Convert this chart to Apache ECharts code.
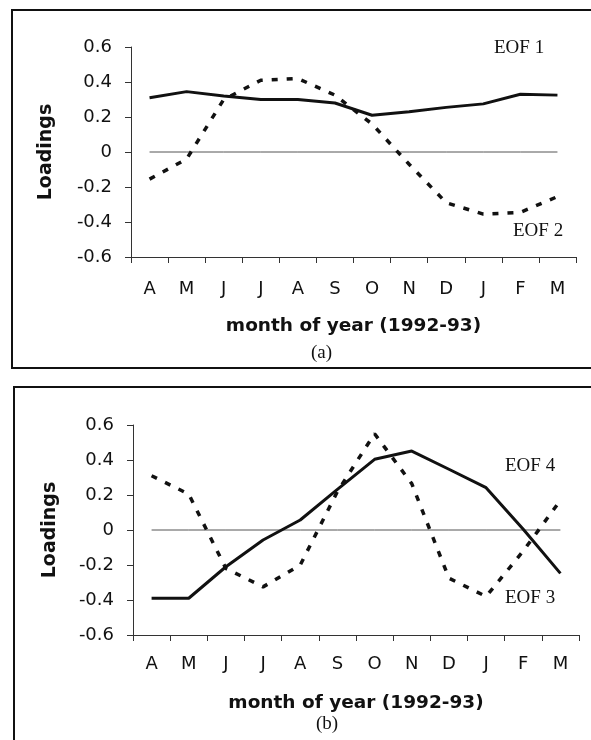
<!DOCTYPE html>
<html>
<head>
<meta charset="utf-8">
<script src="https://cdn.jsdelivr.net/npm/echarts@6/dist/echarts.min.js"></script>
<style>
html,body{margin:0;padding:0;background:#fff;}
#chart{width:591px;height:740px;}
</style>
</head>
<body>
<div id="chart"></div>
<script>
// ---- data ----
var months = ['A','M','J','J','A','S','O','N','D','J','F','M'];
var yTicks = [-0.6, -0.4, -0.2, 0, 0.2, 0.4, 0.6];
var eof1 = [0.31, 0.345, 0.32, 0.30, 0.30, 0.28, 0.21, 0.23, 0.255, 0.275, 0.33, 0.325];
var eof2 = [-0.155, -0.04, 0.30, 0.41, 0.42, 0.325, 0.16, -0.07, -0.29, -0.355, -0.345, -0.255];
var eof3 = [0.31, 0.205, -0.22, -0.325, -0.20, 0.22, 0.55, 0.265, -0.275, -0.38, -0.12, 0.17];
var eof4 = [-0.39, -0.39, -0.21, -0.057, 0.057, 0.232, 0.404, 0.451, 0.347, 0.242, 0.004, -0.248];
var zeroRef = [0, 0, 0, 0, 0, 0, 0, 0, 0, 0, 0, 0];
var xTitle = 'month of year (1992-93)';
var yTitle = 'Loadings';

var chart = echarts.init(document.getElementById('chart'), null, {renderer: 'canvas'});

function yAxisCfg(gridIndex, gap) {
  return {
    type: 'value', gridIndex: gridIndex,
    min: yTicks[0], max: yTicks[yTicks.length - 1], interval: 0.2,
    splitLine: {show: false},
    axisLine: {show: true, lineStyle: {color: '#333', width: 1}},
    axisTick: {show: true, length: 6, inside: false, lineStyle: {color: '#333'}},
    axisLabel: {
      margin: 19, color: '#111', fontSize: 18, fontFamily: 'DejaVu Sans',
      formatter: function (v) { return String(Math.round(v * 10) / 10); }
    },
    name: yTitle, nameLocation: 'middle', nameRotate: 90, nameGap: gap,
    nameTextStyle: {fontFamily: 'DejaVu Sans', fontWeight: 'bold', fontSize: 19, color: '#111'}
  };
}
function xAxisCfg(gridIndex, margin, gap) {
  return {
    type: 'category', gridIndex: gridIndex, data: months, boundaryGap: true,
    axisLine: {show: true, onZero: false, lineStyle: {color: '#333', width: 1}},
    axisTick: {show: true, length: 6, alignWithLabel: false, lineStyle: {color: '#333'}},
    axisLabel: {margin: margin, color: '#111', fontSize: 18, fontFamily: 'DejaVu Sans', interval: 0},
    name: xTitle, nameLocation: 'middle', nameGap: gap,
    nameTextStyle: {fontFamily: 'DejaVu Sans', fontWeight: 'bold', fontSize: 18.5, color: '#111'}
  };
}
function solid(name, data, xi) {
  return {name: name, type: 'line', xAxisIndex: xi, yAxisIndex: xi, data: data,
    symbol: 'none', z: 3, lineStyle: {color: '#111', width: 3, type: 'solid'}};
}
function dashed(name, data, xi) {
  return {name: name, type: 'line', xAxisIndex: xi, yAxisIndex: xi, data: data,
    symbol: 'none', z: 4, lineStyle: {color: '#111', width: 3.5, type: [6, 9], cap: 'butt'}};
}
function zero(xi) {
  return {name: 'zero' + xi, type: 'line', xAxisIndex: xi, yAxisIndex: xi, data: zeroRef,
    symbol: 'none', z: 2, silent: true, lineStyle: {color: '#555', width: 1}};
}

var serif = 'Liberation Serif';
chart.setOption({
  backgroundColor: '#fff',
  animation: false,
  grid: [
    {left: 131, top: 47, width: 445, height: 210},
    {left: 133, top: 425, width: 446, height: 210}
  ],
  xAxis: [xAxisCfg(0, 23, 60), xAxisCfg(1, 20, 59)],
  yAxis: [yAxisCfg(0, 75), yAxisCfg(1, 73)],
  series: [
    zero(0), solid('EOF 1', eof1, 0), dashed('EOF 2', eof2, 0),
    zero(1), solid('EOF 4', eof4, 1), dashed('EOF 3', eof3, 1)
  ],
  graphic: [
    {type: 'rect', shape: {x: 12, y: 10, width: 600, height: 358}, style: {fill: 'none', stroke: '#111', lineWidth: 2}, z: 0},
    {type: 'rect', shape: {x: 14, y: 387, width: 600, height: 400}, style: {fill: 'none', stroke: '#111', lineWidth: 2}, z: 0},
    {type: 'text', left: 494, top: 39, style: {text: 'EOF 1', font: '19px "' + serif + '"', fill: '#111'}},
    {type: 'text', left: 513, top: 222, style: {text: 'EOF 2', font: '19px "' + serif + '"', fill: '#111'}},
    {type: 'text', left: 311, top: 344, style: {text: '(a)', font: '19px "' + serif + '"', fill: '#111'}},
    {type: 'text', left: 505, top: 457, style: {text: 'EOF 4', font: '19px "' + serif + '"', fill: '#111'}},
    {type: 'text', left: 505, top: 589, style: {text: 'EOF 3', font: '19px "' + serif + '"', fill: '#111'}},
    {type: 'text', left: 316, top: 715, style: {text: '(b)', font: '19px "' + serif + '"', fill: '#111'}}
  ]
});
</script>
</body>
</html>
